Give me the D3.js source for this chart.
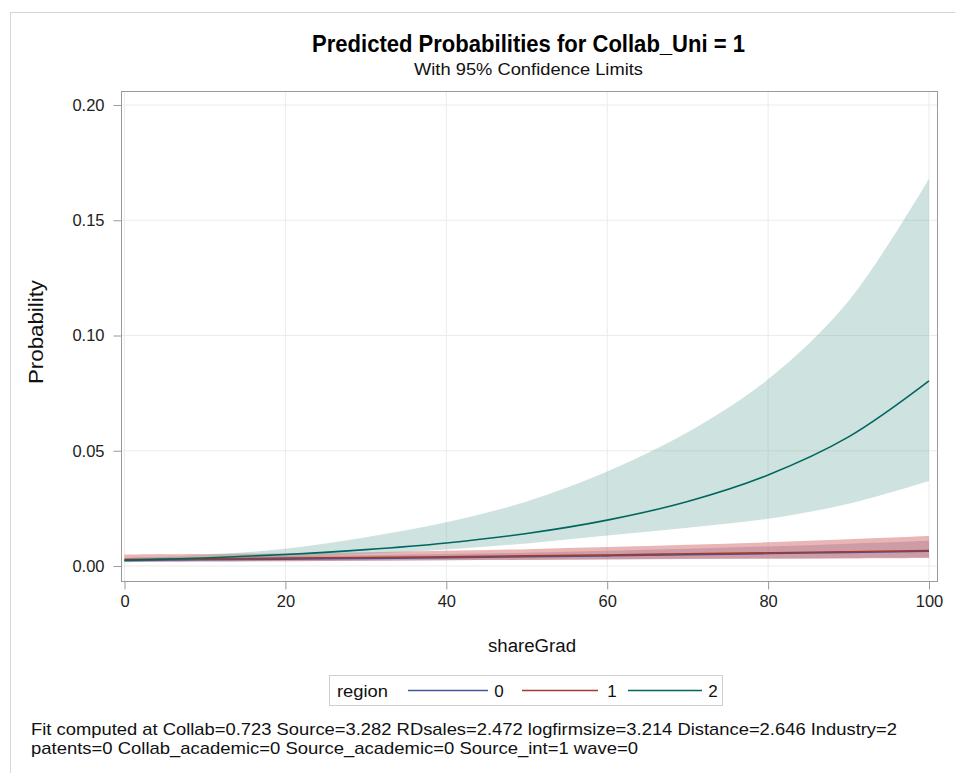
<!DOCTYPE html>
<html><head><meta charset="utf-8">
<script src="https://cdn.jsdelivr.net/npm/d3@7"></script>
<style>body{margin:0;background:#fff}svg{display:block}text{font-family:"Liberation Sans",Arial,sans-serif}</style>
</head><body><svg id="c" width="955" height="773"></svg>
<script>
// ---- data ----
const shareGrad = [0,10,20,30,40,50,60,70,80,90,100];
const regions = ["0","1","2"];
// region 0
const pred0  = [0.0024,0.0027,0.0030,0.0033,0.0036,0.0040,0.0044,0.0049,0.0054,0.0059,0.0064];
const lower0 = [0.0016,0.0019,0.0021,0.0023,0.0025,0.0027,0.0029,0.0031,0.0033,0.0035,0.0037];
const upper0 = [0.0036,0.0039,0.0043,0.0047,0.0052,0.0058,0.0066,0.0075,0.0085,0.0097,0.0110];
// region 1
const pred1  = [0.0028,0.0031,0.0034,0.0037,0.0040,0.0044,0.0048,0.0053,0.0057,0.0062,0.0067];
const lower1 = [0.0017,0.0019,0.0021,0.0023,0.0025,0.0026,0.0028,0.0030,0.0031,0.0033,0.0035];
const upper1 = [0.0050,0.0052,0.0055,0.0060,0.0066,0.0073,0.0082,0.0092,0.0103,0.0116,0.0130];
// region 2
const pred2  = [0.0025,0.0035,0.0050,0.0071,0.0100,0.0141,0.0199,0.0280,0.0395,0.0560,0.0803];
const lower2 = [0.0017,0.0026,0.0038,0.0052,0.0072,0.0098,0.0132,0.0166,0.0205,0.0270,0.0369];
const upper2 = [0.0034,0.0048,0.0075,0.0125,0.0190,0.0280,0.0410,0.0580,0.0810,0.1150,0.1680];
const xTicks = [0,20,40,60,80,100];
const yTicks = [0,0.05,0.10,0.15,0.20];
const lineColors = ["#445694","#A23A2E","#01665E"];
const fillColors = ["#6F7EB3","#D05B5B","#66A5A0"];
const titleText = "Predicted Probabilities for Collab_Uni = 1";
const subtitleText = "With 95% Confidence Limits";
const footLines = ["Fit computed at Collab=0.723 Source=3.282 RDsales=2.472 logfirmsize=3.214 Distance=2.646 Industry=2",
                   "patents=0 Collab_academic=0 Source_academic=0 Source_int=1 wave=0"];

const series = [
  {pred:pred0, lo:lower0, hi:upper0},
  {pred:pred1, lo:lower1, hi:upper1},
  {pred:pred2, lo:lower2, hi:upper2}
];

const svg = d3.select("#c");
svg.append("rect").attr("width",955).attr("height",773).attr("fill","#fff");
// outer graph border
svg.append("rect").attr("x",10.5).attr("y",12.5).attr("width",960).attr("height",800)
  .attr("fill","none").attr("stroke","#d6d6d6");

const frame = {l:121, r:937, t:91, b:581};
const x = d3.scaleLinear().domain([0,100]).range([124.5,929]);
const y = d3.scaleLinear().domain([0,0.2]).range([566,105]);

// titles
svg.append("text").attr("x",528.5).attr("y",52).attr("text-anchor","middle")
  .attr("font-size",23).attr("font-weight","bold").attr("fill","#000")
  .attr("textLength",433).attr("lengthAdjust","spacingAndGlyphs").text(titleText);
svg.append("text").attr("x",528.5).attr("y",75).attr("text-anchor","middle")
  .attr("font-size",16.5).attr("fill","#111")
  .attr("textLength",229).attr("lengthAdjust","spacingAndGlyphs").text(subtitleText);

// gridlines
const g = svg.append("g");
g.selectAll("line.gx").data(xTicks).join("line")
  .attr("x1",d=>x(d)).attr("x2",d=>x(d)).attr("y1",frame.t).attr("y2",frame.b)
  .attr("stroke","#ebebeb").attr("stroke-width",1);
g.selectAll("line.gy").data(yTicks).join("line")
  .attr("y1",d=>y(d)).attr("y2",d=>y(d)).attr("x1",frame.l).attr("x2",frame.r)
  .attr("stroke","#ebebeb").attr("stroke-width",1);

// bands
const curve = d3.curveCatmullRom.alpha(0.5);
const area = d3.area().x((d,i)=>x(shareGrad[i])).y0(d=>y(d[0])).y1(d=>y(d[1])).curve(curve);
const bandAlpha = [0.35,0.45,0.32];
series.forEach((s,k)=>{
  const data = shareGrad.map((v,i)=>[s.lo[i],s.hi[i]]);
  svg.append("path").datum(data).attr("d",area)
    .attr("fill",fillColors[k]).attr("fill-opacity",bandAlpha[k]).attr("stroke","none");
});
const line = d3.line().x(d=>x(d[0])).y(d=>y(d[1])).curve(curve);
series.forEach((s,k)=>{
  svg.append("path").datum(shareGrad.map((v,i)=>[v,s.pred[i]])).attr("d",line)
    .attr("fill","none").attr("stroke",lineColors[k]).attr("stroke-width",1.6);
});

// frame
svg.append("rect").attr("x",frame.l+0.5).attr("y",frame.t+0.5)
  .attr("width",frame.r-frame.l).attr("height",frame.b-frame.t)
  .attr("fill","none").attr("stroke","#9a9a9a");

// axes
const xAxis = d3.axisBottom(x).tickValues(xTicks).tickFormat(d3.format("d")).tickSize(8).tickPadding(6);
const xa = svg.append("g").attr("transform",`translate(0,${frame.b+0.5})`).call(xAxis);
xa.select(".domain").remove();
xa.selectAll(".tick line").attr("stroke","#9a9a9a");
xa.selectAll(".tick text").attr("font-size",16.5).attr("fill","#222").attr("font-family","Liberation Sans, Arial, sans-serif");

const yAxis = d3.axisLeft(y).tickValues(yTicks).tickFormat(d3.format(".2f")).tickSize(8).tickPadding(9);
const ya = svg.append("g").attr("transform",`translate(${frame.l+0.5},0)`).call(yAxis);
ya.select(".domain").remove();
ya.selectAll(".tick line").attr("stroke","#9a9a9a");
ya.selectAll(".tick text").attr("font-size",16.5).attr("fill","#222").attr("font-family","Liberation Sans, Arial, sans-serif");

// axis labels
svg.append("text").attr("x",532).attr("y",652).attr("text-anchor","middle")
  .attr("font-size",18).attr("fill","#111").attr("textLength",88).attr("lengthAdjust","spacingAndGlyphs").text("shareGrad");
svg.append("text").attr("transform","translate(43,332) rotate(-90)").attr("text-anchor","middle")
  .attr("font-size",20).attr("fill","#111").attr("textLength",104).attr("lengthAdjust","spacingAndGlyphs").text("Probability");

// legend
const lg = svg.append("g");
lg.append("rect").attr("x",329.5).attr("y",675.5).attr("width",393).attr("height",30)
  .attr("fill","#fff").attr("stroke","#cfcfcf");
lg.append("text").attr("x",337).attr("y",697).attr("font-size",17).attr("fill","#111")
  .attr("textLength",51).attr("lengthAdjust","spacingAndGlyphs").text("region");
const legX = [[408,488,499],[522,598,612],[628,702,713]];
regions.forEach((r,k)=>{
  lg.append("line").attr("x1",legX[k][0]).attr("x2",legX[k][1]).attr("y1",690.5).attr("y2",690.5)
    .attr("stroke",lineColors[k]).attr("stroke-width",1.5);
  lg.append("text").attr("x",legX[k][2]).attr("y",697).attr("text-anchor","middle")
    .attr("font-size",17).attr("fill","#111").text(r);
});

// footnote
footLines.forEach((t,i)=>{
  svg.append("text").attr("x",31).attr("y",735+i*19).attr("font-size",17).attr("fill","#111")
    .attr("textLength",i===0?866:607).attr("lengthAdjust","spacingAndGlyphs").text(t);
});
</script></body></html>
